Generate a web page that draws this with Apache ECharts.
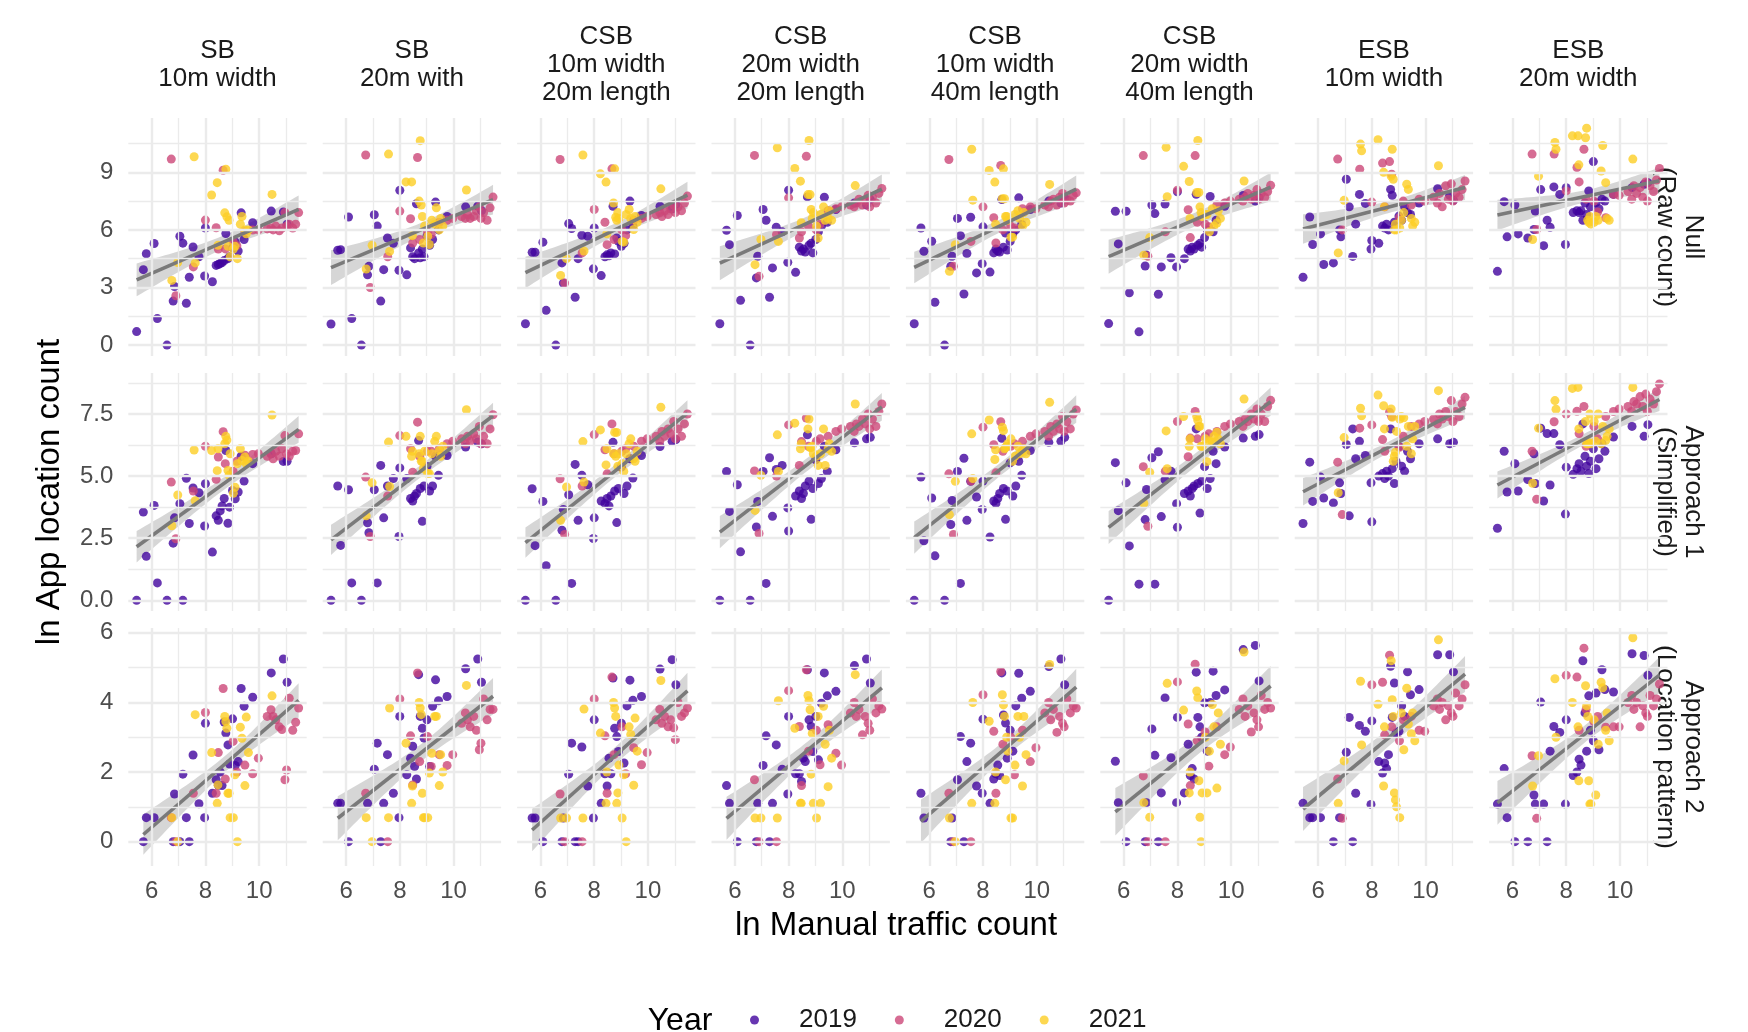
<!DOCTYPE html>
<html>
<head>
<meta charset="utf-8">
<title>App location count vs manual traffic count</title>
<script src="https://cdn.jsdelivr.net/npm/echarts@6/dist/echarts.min.js"></script>
<style>
  html, body { margin: 0; padding: 0; background: #fff; }
  #chart { width: 1748px; height: 1032px; }
</style>
</head>
<body>
<div id="chart"></div>
<script>
// ln manual traffic count, same observations in every panel
const x2019 = [5.44, 5.69, 5.80, 6.09, 6.21, 6.57, 6.80, 6.85, 7.05, 7.16, 7.29, 7.40, 7.54, 7.76, 7.97, 8.00, 8.26, 8.40, 8.48, 8.55, 8.62, 8.70, 8.76, 8.84, 8.90, 9.01, 9.11, 9.22, 9.33, 9.44, 9.76, 10.45, 10.90, 11.04];
const x2020 = [6.73, 6.90, 7.55, 8.00, 8.40, 8.48, 8.66, 8.74, 9.03, 9.17, 9.47, 9.76, 9.97, 10.30, 10.44, 10.52, 10.62, 10.75, 10.85, 10.96, 11.02, 11.12, 11.25, 11.36, 11.47];
const x2021 = [6.75, 6.97, 7.58, 7.62, 8.23, 8.44, 8.47, 8.72, 8.76, 8.80, 8.84, 8.88, 8.92, 9.04, 9.10, 9.19, 9.30, 9.36, 9.47, 9.52, 9.60, 10.48];

const years = ['2019', '2020', '2021'];
const colLabels = ['SB\n10m width', 'SB\n20m with', 'CSB\n10m width\n20m length', 'CSB\n20m width\n20m length',
  'CSB\n10m width\n40m length', 'CSB\n20m width\n40m length', 'ESB\n10m width', 'ESB\n20m width'];
const rowLabels = ['Null\n(Raw count)', 'Approach 1\n(Simplified)', 'Approach 2\n(Location pattern)'];
const xTicks = [6, 8, 10];
const yTicks = [[0, 3, 6, 9], [0, 2.5, 5, 7.5], [0, 2, 4, 6]];

// ln app location count, one inner array per column (null = zero count, dropped)
const nullY2019 = [
  [0.7, 3.93, 4.76, 5.29, 1.38, 0, 2.29, 3.05, 5.67, 5.31, 2.18, 3.53, 5.11, 4.6, 3.6, 6.1, 3.3, 4.15, 4.2, 4.25, 4.3, 4.4, 5.81, 4.5, 4.6, 5.06, 5.37, 4.9, 6.89, 5.5, 6.37, 6.98, 6.93, 6.3],
  [1.1, 4.94, 4.97, 6.67, 1.38, 0, 3.66, 4.1, 6.79, 6.2, 2.29, 3.93, 5.58, 5.3, 3.9, 8.06, 3.66, 5.06, 4.6, 4.5, 7.36, 4.8, 4.55, 5.0, 4.6, 5.67, 5.2, 5.5, 7.45, 6.0, 6.7, 7.2, 7.24, 7.0],
  [1.11, 4.83, 4.83, 5.36, 1.81, 0, 4.28, 3.23, 6.33, 6.07, 2.49, 4.5, 5.72, 5.67, 3.97, 6.1, 3.62, 4.6, 4.7, 4.65, 4.8, 7.23, 4.75, 5.58, 5.41, 5.15, 5.3, 6.0, 7.5, 6.2, 6.75, 7.23, 7.1, 7.32],
  [1.11, 5.98, 5.23, 6.75, 2.33, 0, 3.5, 4.63, 7.06, 6.5, 2.49, 4.02, 6.14, 5.9, 4.31, 8.07, 3.79, 5.1, 4.9, 5.0, 4.85, 7.72, 5.2, 5.3, 4.8, 5.5, 5.9, 6.19, 7.7, 6.4, 7.06, 7.4, 7.3, 7.58],
  [1.11, 6.1, 4.89, 5.41, 2.23, 0, 4.1, 4.63, 6.6, 5.7, 2.66, 4.77, 6.66, 3.76, 4.24, 6.16, 3.8, 4.8, 5.0, 4.9, 4.85, 7.58, 5.1, 5.84, 4.95, 5.4, 5.8, 6.0, 7.67, 6.28, 7.06, 7.5, 7.4, 7.67],
  [1.12, 6.97, 5.27, 6.97, 2.72, 0.69, 4.12, 4.68, 7.3, 6.85, 2.65, 4.07, 7.35, 4.55, 4.07, 7.99, 4.5, 5.0, 4.9, 5.1, 5.0, 7.86, 5.2, 5.3, 5.1, 5.6, 6.0, 7.74, 5.9, 6.5, 7.23, 7.79, 7.5, 7.68],
  [3.53, 6.67, 5.24, 5.79, 4.2, 4.28, 6.0, 5.64, 8.64, 7.2, 4.62, 6.3, 7.85, 7.38, 5.0, 5.45, 5.3, 6.2, 6.1, 6.3, 6.0, 8.11, 7.8, 6.4, 6.2, 6.72, 6.5, 7.2, 6.9, 6.8, 7.4, 8.15, 7.8, 7.54],
  [3.84, 7.47, 5.64, 7.3, 5.79, 5.58, 6.02, 6.98, 8.1, 5.18, 6.5, 6.14, 8.24, 7.85, 5.24, 8.2, 6.9, 7.0, 6.9, 7.0, 6.5, 7.4, 6.8, 8.03, 7.2, 9.56, 7.42, 7.1, 7.6, 7.5, 7.85, 8.2, 8.38, 8.46]
];
const nullY2020 = [
  [9.69, 2.57, 4.07, 6.51, 6.11, 5.0, 9.11, 5.01, 5.4, 5.18, 5.9, 5.99, 6.0, 6.05, 6.1, 6.0, 6.2, 5.95, 6.1, 6.9, 6.2, 6.3, 6.1, 6.3, 6.9],
  [9.9, 3.0, 4.6, 6.98, 6.58, 5.32, 9.77, 5.5, 5.9, 5.76, 6.4, 6.5, 6.6, 6.7, 6.6, 6.8, 6.6, 6.7, 7.0, 7.2, 6.6, 6.9, 6.5, 7.15, 7.71],
  [9.67, 3.23, 4.8, 7.06, 6.4, 5.23, 9.18, 5.5, 6.0, 5.7, 6.5, 6.6, 6.7, 6.8, 6.9, 6.7, 7.0, 6.8, 7.1, 7.3, 6.9, 7.2, 7.0, 7.4, 7.76],
  [9.88, 3.58, 5.76, 7.67, 5.58, 5.9, 9.84, 6.2, 6.0, 6.3, 7.0, 7.1, 7.2, 7.3, 7.2, 7.4, 7.6, 7.3, 7.5, 7.8, 7.2, 7.7, 7.4, 7.9, 8.16],
  [9.67, 4.1, 5.4, 7.2, 6.63, 5.32, 9.36, 6.0, 6.2, 6.1, 7.1, 7.2, 7.1, 7.3, 7.2, 7.5, 7.6, 7.3, 7.7, 7.9, 7.4, 7.6, 7.5, 7.8, 7.93],
  [9.87, 4.63, 5.9, 8.07, 7.05, 5.6, 9.87, 6.4, 6.3, 6.16, 7.3, 7.4, 7.5, 7.6, 7.5, 7.7, 7.9, 7.6, 7.8, 8.1, 7.6, 7.9, 7.7, 8.0, 8.32],
  [9.69, 6.0, 9.16, 7.45, 9.48, 7.2, 9.56, 8.9, 6.63, 7.5, 7.3, 7.6, 7.5, 7.7, 7.4, 7.9, 7.2, 8.3, 7.6, 8.4, 7.5, 7.9, 7.7, 8.1, 8.55],
  [9.95, 6.02, 9.95, 8.03, 9.25, 8.5, 10.2, 7.6, 7.5, 6.93, 6.63, 7.85, 7.8, 8.0, 7.6, 8.3, 7.9, 8.2, 7.7, 8.5, 7.5, 8.3, 8.0, 8.6, 9.2]
];
const nullY2021 = [
  [3.37, 4.3, 9.81, 4.28, 7.82, 8.46, 5.2, 6.89, 9.16, 6.68, 5.15, 6.5, 4.6, 5.0, 5.15, 4.5, 6.3, 6.7, 6.0, 5.8, 6.0, 7.85],
  [3.96, 5.2, 9.95, 4.88, 8.5, 8.5, 5.7, 7.5, 10.65, 7.3, 6.7, 5.32, 6.2, 5.67, 5.24, 6.5, 6.3, 7.15, 6.0, 6.6, 6.2, 8.08],
  [3.63, 4.5, 9.9, 4.9, 8.92, 8.49, 5.8, 7.4, 9.18, 6.66, 6.5, 6.9, 6.6, 5.4, 5.36, 6.8, 7.06, 6.6, 6.02, 6.7, 6.4, 8.14],
  [4.19, 5.5, 10.28, 5.4, 9.2, 8.54, 6.37, 7.84, 10.66, 7.84, 7.06, 6.6, 6.9, 6.19, 5.58, 6.8, 7.2, 6.5, 6.6, 7.0, 6.5, 8.31],
  [3.84, 5.23, 10.2, 7.55, 9.1, 8.49, 6.3, 7.62, 9.18, 7.62, 6.7, 6.7, 6.5, 5.62, 5.62, 6.8, 7.0, 6.6, 6.19, 6.9, 6.4, 8.37],
  [4.68, 5.6, 10.3, 7.73, 9.31, 8.52, 6.6, 7.95, 10.66, 7.95, 7.2, 6.9, 6.7, 6.8, 6.8, 5.9, 7.1, 6.2, 6.36, 7.0, 6.6, 8.55],
  [4.8, 7.54, 10.47, 10.12, 10.7, 9.0, 7.2, 8.8, 10.2, 8.64, 6.0, 6.3, 6.0, 6.1, 6.5, 6.9, 8.38, 8.11, 6.6, 6.2, 6.4, 9.34],
  [5.5, 8.8, 10.56, 10.2, 10.9, 10.9, 9.39, 10.8, 11.3, 6.5, 6.4, 6.7, 6.3, 6.4, 6.7, 6.5, 9.07, 10.4, 8.46, 6.6, 6.5, 9.69]
];
const app1Y2019 = [
  [0, 3.55, 1.77, 3.82, 0.7, 0, 2.3, 3.32, 3.89, 0, 4.91, 3.09, 4.52, 4.33, 2.99, 4.69, 1.94, 3.4, 3.22, 3.6, 3.8, 4.1, 6.03, 3.1, 3.75, 4.42, 4.09, 4.36, 5.8, 4.8, 5.5, 5.9, 5.59, 5.6],
  [0, 4.6, 2.21, 4.45, 0.7, 0, 3.12, 2.72, 4.45, 0.7, 5.43, 3.32, 4.6, 4.9, 2.57, 5.33, 4.9, 4.1, 4.0, 4.2, 4.3, 6.43, 4.5, 3.18, 4.6, 5.39, 4.4, 4.6, 5.8, 5.03, 5.83, 6.17, 6.37, 6.3],
  [0, 4.49, 2.2, 3.98, 1.39, 0, 2.82, 3.66, 4.25, 0.68, 5.47, 3.22, 5.03, 4.65, 2.49, 3.32, 4.0, 3.9, 4.1, 3.8, 4.2, 6.36, 4.4, 3.13, 4.5, 5.36, 4.3, 4.6, 5.7, 4.92, 5.83, 6.19, 6.4, 6.47],
  [0, 5.19, 3.58, 4.65, 1.95, 0, 2.95, 3.98, 5.19, 0.68, 5.74, 3.38, 5.27, 5.43, 3.72, 2.79, 4.2, 4.4, 4.1, 4.3, 4.6, 6.66, 4.8, 3.26, 4.5, 5.66, 4.7, 4.9, 6.2, 5.19, 6.06, 6.34, 6.5, 6.56],
  [0, 4.96, 2.4, 4.12, 1.79, 0, 3.05, 4.02, 5.19, 0.68, 5.72, 3.22, 4.79, 4.16, 3.66, 4.8, 2.55, 4.0, 3.9, 4.1, 4.3, 6.52, 4.5, 3.26, 4.4, 5.53, 4.2, 4.6, 5.6, 5.03, 6.03, 6.36, 6.4, 6.56],
  [0, 5.54, 3.61, 4.73, 2.19, 0.65, 3.25, 4.46, 5.74, 0.65, 5.98, 3.37, 4.85, 5.2, 3.89, 2.94, 4.3, 4.4, 4.2, 4.5, 4.6, 6.9, 4.7, 3.51, 4.8, 5.38, 4.5, 4.9, 6.0, 5.5, 6.17, 6.53, 6.6, 6.67],
  [3.09, 5.56, 3.98, 4.96, 4.12, 3.92, 4.73, 4.3, 6.27, 3.4, 6.9, 5.7, 6.4, 5.83, 4.73, 3.16, 5.0, 5.1, 4.9, 5.2, 5.0, 6.9, 5.3, 4.7, 5.6, 6.19, 5.4, 5.2, 6.0, 5.7, 6.3, 6.5, 6.3, 6.36],
  [2.9, 6.0, 4.36, 5.5, 4.4, 4.86, 5.9, 4.7, 6.93, 4.0, 6.71, 4.64, 6.71, 6.26, 3.47, 5.36, 5.07, 5.3, 5.5, 5.2, 7.1, 5.8, 5.4, 5.1, 5.6, 6.1, 5.3, 5.7, 6.3, 6.0, 6.57, 7.0, 6.6, 7.07]
];
const app1Y2020 = [
  [4.76, 2.48, 4.4, 6.2, 4.87, 5.77, 6.79, 5.5, 5.2, 5.6, 5.84, 5.87, 5.9, 5.8, 5.9, 5.7, 6.0, 5.8, 6.1, 6.63, 5.9, 5.8, 6.0, 6.03, 6.7],
  [4.96, 2.57, 4.2, 6.63, 6.1, 5.16, 7.17, 5.8, 6.0, 6.0, 6.1, 6.3, 6.4, 6.5, 6.3, 6.6, 6.4, 6.7, 6.5, 7.0, 6.3, 6.6, 6.3, 6.9, 7.47],
  [4.89, 2.65, 4.6, 6.67, 6.06, 5.09, 7.1, 5.9, 6.0, 6.1, 6.2, 6.4, 6.5, 6.6, 6.4, 6.8, 6.6, 6.9, 6.7, 7.2, 6.5, 6.9, 6.6, 7.1, 7.5],
  [5.21, 2.69, 5.0, 7.06, 5.43, 6.39, 7.34, 6.2, 6.4, 6.5, 6.6, 6.8, 6.9, 7.0, 6.8, 7.1, 7.0, 7.3, 7.1, 7.5, 6.9, 7.3, 7.0, 7.6, 7.9],
  [5.09, 2.65, 4.8, 6.97, 6.26, 5.13, 7.19, 6.0, 6.2, 6.3, 6.4, 6.6, 6.7, 6.8, 6.6, 7.0, 6.8, 7.1, 6.9, 7.4, 6.8, 7.2, 6.9, 7.5, 7.66],
  [5.38, 2.98, 5.2, 7.2, 5.78, 6.53, 7.6, 6.5, 6.6, 6.7, 6.8, 7.0, 7.1, 7.2, 7.0, 7.3, 7.2, 7.5, 7.3, 7.7, 7.2, 7.5, 7.2, 7.8, 8.05],
  [5.56, 3.45, 6.93, 7.06, 6.47, 6.0, 7.57, 7.4, 6.16, 6.6, 7.0, 7.1, 7.2, 7.3, 7.1, 7.5, 7.3, 7.6, 7.4, 8.04, 7.2, 7.6, 7.4, 7.9, 8.17],
  [6.0, 4.07, 7.19, 7.5, 7.61, 6.71, 7.8, 6.2, 7.0, 6.5, 7.4, 7.6, 7.7, 7.8, 7.6, 8.0, 7.9, 8.2, 7.8, 8.3, 7.6, 8.1, 7.9, 8.4, 8.71]
];
const app1Y2021 = [
  [3.0, 4.24, 6.05, 4.01, 6.03, 5.22, 6.1, 6.3, 6.6, 6.45, 5.23, 5.03, 5.9, 4.31, 4.55, 5.5, 6.1, 5.63, 5.77, 5.5, 5.6, 7.46],
  [3.4, 4.73, 6.37, 4.58, 6.6, 5.8, 6.0, 5.9, 6.6, 5.6, 5.6, 5.3, 6.0, 5.1, 5.1, 5.9, 6.4, 6.6, 6.03, 5.8, 6.2, 7.67],
  [3.22, 4.56, 6.39, 4.76, 6.86, 5.45, 6.1, 5.9, 6.76, 5.8, 6.76, 5.4, 5.9, 5.5, 5.19, 5.9, 6.3, 6.5, 5.7, 5.6, 6.0, 7.77],
  [3.62, 5.03, 6.66, 5.19, 7.13, 6.1, 6.3, 6.9, 7.3, 6.15, 6.15, 6.2, 5.9, 5.8, 5.43, 5.9, 6.9, 5.43, 6.1, 6.3, 6.0, 7.9],
  [3.45, 4.79, 6.7, 4.9, 7.26, 5.67, 6.06, 6.97, 6.83, 6.1, 6.15, 6.2, 6.3, 6.5, 5.6, 5.8, 6.2, 5.9, 6.0, 6.1, 5.9, 7.97],
  [3.9, 5.15, 6.82, 5.3, 7.4, 6.2, 6.5, 7.4, 7.25, 7.0, 7.0, 6.2, 6.2, 6.5, 5.58, 6.4, 6.37, 6.6, 6.77, 6.5, 6.3, 8.1],
  [4.33, 6.55, 7.73, 7.43, 8.26, 7.83, 6.9, 7.7, 7.37, 5.6, 5.8, 5.96, 6.8, 7.3, 7.4, 7.35, 6.2, 7.0, 5.9, 6.5, 7.0, 8.44],
  [4.71, 6.93, 8.04, 7.69, 8.53, 8.57, 6.9, 7.2, 6.3, 6.3, 6.35, 7.5, 6.3, 7.2, 6.4, 7.5, 6.3, 7.0, 6.43, 6.6, 6.9, 8.57]
];
const app2Y2019 = [
  [null, 0, 0.69, 0.69, null, null, 0, 1.37, 0, 1.94, 0.69, 0, 2.49, 1.09, 0.69, 3.4, 1.39, 1.78, 1.62, 2.0, 1.61, 3.44, 3.12, 2.78, 2.23, 3.53, 2.19, 2.3, 4.4, 3.89, 4.15, 4.85, 5.25, 4.58],
  [null, 1.1, 1.1, 0, null, null, 1.1, null, 2.08, 2.83, 0, 1.1, 2.5, 1.39, 0.69, 3.6, 1.92, 2.4, 2.74, 2.16, 1.8, 4.8, 3.6, 3.26, 2.98, 3.5, 2.16, 3.89, 4.65, 4.05, 4.17, 4.97, 5.25, 4.58],
  [null, 0.68, 0.68, 0, null, null, 0, 0.68, 1.94, 2.83, 0, 0, 2.72, 1.6, 0.68, 3.5, 1.1, 1.95, 1.6, 2.4, 1.95, 4.7, 3.26, 3.02, 2.59, 3.4, 2.26, 3.9, 4.64, 4.06, 4.17, 4.96, 5.23, 4.51],
  [null, 1.61, 1.1, 0, null, null, 0, 1.1, 2.19, 3.04, 0, 1.1, 2.78, 2.08, 1.37, 3.6, 1.95, 1.95, 1.73, 2.4, 2.3, 4.94, 3.5, 3.31, 2.59, 3.6, 2.35, 3.98, 4.85, 4.19, 4.32, 5.06, 5.25, 4.56],
  [null, 1.39, 0.68, null, null, null, 0, 0.68, 1.78, 3.02, 0, 2.3, 2.83, 1.6, 1.39, 3.52, 1.1, 1.8, 1.95, 2.2, 1.9, 4.85, 3.64, 3.41, 2.4, 3.2, 2.6, 3.9, 4.84, 4.12, 4.32, 5.03, 5.25, 4.51],
  [null, 2.31, 1.12, 0, null, null, 0, 1.12, 3.24, 2.48, 0, 1.4, 4.13, 2.41, 1.12, 3.57, 1.4, 2.8, 1.9, 2.1, 1.8, 4.87, 3.57, 3.3, 3.0, 3.99, 2.6, 4.0, 4.9, 4.2, 4.36, 5.52, 5.64, 4.62],
  [1.1, 0.69, 0.69, 0.69, null, 0, 0.69, null, 2.57, 3.57, 0, 1.39, 3.34, 3.17, 1.07, 3.47, 2.3, 1.97, 2.26, 2.1, 2.5, 5.04, 3.57, 4.56, 3.12, 3.17, 3.9, 3.6, 4.88, 4.22, 4.37, 5.37, 5.37, 4.88],
  [1.08, 2.1, 0.69, 0, null, 0, 1.34, 1.08, 4.01, 1.08, 0, 2.6, 3.31, 3.14, 1.08, 3.5, 1.9, 2.0, 2.37, 2.2, 5.2, 3.7, 2.6, 4.19, 3.2, 2.9, 4.27, 2.64, 4.94, 4.37, 4.3, 5.4, 5.35, 4.78]
];
const app2Y2020 = [
  [0.69, 0, 1.39, 3.71, 1.39, 2.56, 4.4, 1.8, 2.88, 2.0, 2.2, 1.95, 2.4, 3.6, 3.79, 3.6, 3.5, 3.3, 3.22, 1.78, 2.06, 4.12, 3.2, 3.43, 3.84],
  [1.39, null, 0, 4.1, 3.04, 1.63, 4.85, 2.3, 3.02, 2.16, 2.5, 2.19, 2.5, 3.4, 3.7, 3.5, 3.3, 3.6, 3.2, 2.64, 2.83, 4.1, 3.5, 3.8, 3.8],
  [1.37, 0, 0, 4.1, 3.04, 1.39, 4.73, 2.5, 3.3, 1.95, 2.7, 2.21, 2.56, 3.5, 3.8, 3.4, 3.6, 3.3, 3.5, 3.27, 2.93, 4.0, 3.6, 3.7, 3.84],
  [1.78, 0, 0, 4.34, 3.31, 1.61, 4.94, 2.6, 3.2, 2.21, 3.36, 2.54, 2.2, 3.7, 4.0, 3.6, 3.8, 3.07, 3.6, 3.4, 3.2, 4.1, 3.7, 3.9, 3.81],
  [1.39, 0, 0, 4.22, 3.17, 1.39, 4.89, 2.8, 3.0, 1.92, 3.2, 2.3, 2.7, 3.7, 4.0, 3.5, 3.8, 3.14, 3.6, 3.4, 3.3, 4.1, 3.7, 3.9, 3.84],
  [1.89, 0, 0, 4.59, 3.38, 1.61, 5.1, 2.9, 3.15, 2.17, 3.3, 2.5, 2.72, 3.8, 4.1, 3.6, 3.9, 3.15, 3.7, 3.5, 3.3, 4.2, 3.8, 4.0, 3.84],
  [1.8, 0.67, null, 4.51, 4.58, 3.07, 5.36, 3.3, 2.9, 3.5, 3.6, 3.2, 3.17, 3.9, 4.1, 3.8, 4.0, 3.5, 3.9, 3.7, 3.6, 4.27, 3.9, 4.1, 4.51],
  [2.47, 0.67, null, 4.78, 4.73, 3.2, 5.56, 3.8, 3.45, 3.6, 3.29, 3.3, 3.3, 4.0, 4.2, 3.8, 4.0, 3.3, 3.9, 3.7, 3.6, 4.2, 3.9, 4.1, 4.53]
];
const app2Y2021 = [
  [0.69, 0, null, 3.65, 2.56, 1.1, 1.63, 3.6, 3.45, 3.26, 1.39, 1.39, 0.69, 0.69, 1.92, 0, 3.29, 2.97, 1.61, 3.58, 2.56, 4.19],
  [0.69, 0, 0.69, 3.84, 2.83, 1.1, 1.6, 4.0, 3.84, 3.65, 1.39, 0.69, 0.69, 0.69, 1.97, 2.54, 3.6, 3.6, 1.61, 2.5, 2.0, 4.49],
  [0.68, 0.68, 0.68, 3.81, 3.12, 1.1, 2.0, 4.0, 3.84, 3.6, 1.1, 1.4, 2.2, 0.68, 1.92, 0, 3.3, 3.08, 1.62, 3.55, 2.6, 4.63],
  [0.68, 0.68, 0.68, 4.05, 3.26, 1.1, 1.1, 4.2, 4.05, 3.79, 1.94, 3.11, 1.1, 0.68, 3.6, 1.1, 3.89, 2.8, 1.58, 3.2, 2.4, 4.8],
  [0.68, 0, 1.1, 4.0, 3.46, 1.1, 2.0, 4.22, 3.93, 3.6, 1.78, 3.0, 2.6, 0.68, 0.68, 2.2, 3.6, 3.0, 1.6, 3.6, 2.5, 5.09],
  [1.12, 0.7, null, 4.55, 3.78, 1.4, 2.0, 4.33, 4.13, 1.75, 0.7, 0, 1.4, 3.0, 1.4, 2.6, 3.94, 3.3, 1.54, 3.7, 2.8, 5.45],
  [1.1, 2.32, 4.61, 2.78, 3.95, 1.6, 3.3, 5.2, 4.08, 3.6, 1.4, 1.2, 1.0, 0.69, 3.7, 2.64, 4.41, 3.38, 3.1, 3.7, 2.9, 5.8],
  [1.6, 2.47, 4.68, 3.0, 4.0, 3.3, 1.75, 4.48, 3.9, 3.6, 1.75, 1.08, 1.08, 3.5, 1.34, 2.8, 4.58, 4.42, 3.2, 3.7, 2.9, 5.86]
];

const xsByYear = [x2019, x2020, x2021];
const rowData = [
  [nullY2019, nullY2020, nullY2021],
  [app1Y2019, app1Y2020, app1Y2021],
  [app2Y2019, app2Y2020, app2Y2021]
];

// layout / style
const colors = ['#41049D', '#CC4778', '#FCCE25'];
const FONT = '"Liberation Sans", Arial, Helvetica, sans-serif';
const xRange = [5.13, 11.77];
const yRange = [[-0.57, 11.83], [-0.43, 9.15], [-0.7, 6.14]];
const xGrid = [[6, 8, 10], [7, 9, 11]];
const yGrid = [
  [[0, 3, 6, 9], [1.5, 4.5, 7.5, 10.5]],
  [[0, 2.5, 5, 7.5], [1.25, 3.75, 6.25, 8.75]],
  [[0, 2, 4, 6], [1, 3, 5]]
];
const panelLeft = 128.3, panelPitch = 194.4, panelW = 178.4;
const rowTop = [118, 373, 628], panelH = 238;

// ordinary least squares + 95% band, like geom_smooth(method = "lm")
function fitLm(pts) {
  const n = pts.length;
  let mx = 0, my = 0;
  pts.forEach(p => { mx += p[0]; my += p[1]; });
  mx /= n; my /= n;
  let sxx = 0, sxy = 0;
  pts.forEach(p => { sxx += (p[0] - mx) ** 2; sxy += (p[0] - mx) * (p[1] - my); });
  const b = sxy / sxx, a = my - b * mx;
  let sse = 0;
  pts.forEach(p => { const e = p[1] - (a + b * p[0]); sse += e * e; });
  const s = Math.sqrt(sse / (n - 2));
  const t = 1.96 + 2.4 / (n - 2);
  const xmin = Math.min(...pts.map(p => p[0]));
  const xmax = Math.max(...pts.map(p => p[0]));
  const band = [];
  for (let k = 0; k <= 40; k++) {
    const x = xmin + (xmax - xmin) * k / 40;
    const yh = a + b * x;
    const se = s * Math.sqrt(1 / n + (x - mx) ** 2 / sxx);
    band.push([x, yh - t * se, yh + t * se]);
  }
  return { line: [[xmin, a + b * xmin], [xmax, a + b * xmax]], band: band };
}

const grids = [], xAxes = [], yAxes = [], series = [], graphics = [];

for (let r = 0; r < 3; r++) {
  for (let c = 0; c < 8; c++) {
    const gi = r * 8 + c;
    grids.push({ left: panelLeft + c * panelPitch, top: rowTop[r], width: panelW, height: panelH, outerBoundsMode: 'none' });
    xAxes.push({
      type: 'value', gridIndex: gi, min: xRange[0], max: xRange[1],
      axisLine: { show: false }, axisTick: { show: false, customValues: xTicks }, splitLine: { show: false },
      axisLabel: {
        show: r === 2, customValues: xTicks, color: '#4d4d4d', fontSize: 24, fontFamily: FONT, margin: 13,
        formatter: v => (xTicks.some(t => Math.abs(t - v) < 1e-6) ? String(v) : '')
      }
    });
    yAxes.push({
      type: 'value', gridIndex: gi, min: yRange[r][0], max: yRange[r][1],
      axisLine: { show: false }, axisTick: { show: false, customValues: yTicks[r] }, splitLine: { show: false },
      axisLabel: {
        show: c === 0, customValues: yTicks[r], color: '#4d4d4d', fontSize: 24, fontFamily: FONT, margin: 15,
        formatter: v => (yTicks[r].some(t => Math.abs(t - v) < 1e-6) ? (r === 1 ? v.toFixed(1) : String(v)) : '')
      }
    });

    // panel grid lines
    const gl = [];
    xGrid[0].forEach(v => gl.push({ xAxis: v }));
    xGrid[1].forEach(v => gl.push({ xAxis: v, lineStyle: { width: 1.3 } }));
    yGrid[r][0].forEach(v => gl.push({ yAxis: v }));
    yGrid[r][1].forEach(v => gl.push({ yAxis: v, lineStyle: { width: 1.3 } }));
    series.push({
      type: 'line', xAxisIndex: gi, yAxisIndex: gi, data: [], silent: true, z: 1,
      markLine: {
        silent: true, symbol: ['none', 'none'], label: { show: false }, animation: false,
        lineStyle: { color: '#ebebeb', type: 'solid', width: 2.4 },
        emphasis: { disabled: true },
        data: gl
      }
    });

    const all = [];
    for (let y = 0; y < 3; y++) {
      const ys = rowData[r][y][c];
      const pts = [];
      xsByYear[y].forEach((x, i) => { if (ys[i] !== null && ys[i] !== undefined) pts.push([x, ys[i]]); });
      all.push(...pts);
      series.push({
        type: 'scatter', name: years[y], xAxisIndex: gi, yAxisIndex: gi, data: pts, z: 3,
        symbol: 'circle', symbolSize: 9,
        itemStyle: { color: colors[y], opacity: 0.8 }
      });
    }

    const fit = fitLm(all);
    const band = fit.band;
    series.push({
      type: 'custom', xAxisIndex: gi, yAxisIndex: gi, silent: true, z: 2, clip: true,
      data: band, encode: { x: 0, y: [1, 2] },
      renderItem: (params, api) => {
        if (params.dataIndex !== 0) return;
        const up = band.map(p => api.coord([p[0], p[2]]));
        const lo = band.map(p => api.coord([p[0], p[1]])).reverse();
        return { type: 'polygon', shape: { points: up.concat(lo) }, style: { fill: 'rgba(153,153,153,0.4)' } };
      }
    });
    series.push({
      type: 'line', xAxisIndex: gi, yAxisIndex: gi, data: fit.line, z: 4, silent: true,
      symbol: 'none', lineStyle: { color: '#7a7a7a', width: 3.6 }
    });
  }
}

// facet strips
colLabels.forEach((t, c) => {
  graphics.push({
    type: 'text', x: panelLeft + c * panelPitch + panelW / 2, y: 65, silent: true,
    style: { text: t, fill: '#1a1a1a', font: '26px ' + FONT, align: 'center', verticalAlign: 'middle',
      textAlign: 'center', textVerticalAlign: 'middle', lineHeight: 28 }
  });
});
rowLabels.forEach((t, r) => {
  graphics.push({
    type: 'text', x: 1679, y: rowTop[r] + panelH / 2, rotation: -Math.PI / 2, silent: true,
    style: { text: t, fill: '#1a1a1a', font: '26px ' + FONT, align: 'center', verticalAlign: 'middle',
      textAlign: 'center', textVerticalAlign: 'middle', lineHeight: 28 }
  });
});
// axis titles and legend title
graphics.push({
  type: 'text', x: 50, y: 492, rotation: Math.PI / 2, silent: true,
  style: { text: 'ln App location count', fill: '#000', font: '33px ' + FONT, align: 'center', verticalAlign: 'middle',
    textAlign: 'center', textVerticalAlign: 'middle' }
});
graphics.push({
  type: 'text', x: 896, y: 926, silent: true,
  style: { text: 'ln Manual traffic count', fill: '#000', font: '33px ' + FONT, align: 'center', verticalAlign: 'middle',
    textAlign: 'center', textVerticalAlign: 'middle' }
});
graphics.push({
  type: 'text', x: 680, y: 1021, silent: true,
  style: { text: 'Year', fill: '#000', font: '32px ' + FONT, align: 'center', verticalAlign: 'middle',
    textAlign: 'center', textVerticalAlign: 'middle' }
});

const chart = echarts.init(document.getElementById('chart'), null, { renderer: 'canvas' });
chart.setOption({
  animation: false,
  backgroundColor: '#ffffff',
  textStyle: { fontFamily: FONT },
  grid: grids,
  xAxis: xAxes,
  yAxis: yAxes,
  legend: {
    data: years, left: 750, top: 1007, orient: 'horizontal', padding: 0,
    icon: 'circle', itemWidth: 9, itemHeight: 9, itemGap: 38,
    textStyle: { fontSize: 26, color: '#1a1a1a', fontFamily: FONT, padding: [0, 0, 0, 35] },
    selectedMode: false
  },
  graphic: graphics,
  series: series
});
</script>
</body>
</html>
